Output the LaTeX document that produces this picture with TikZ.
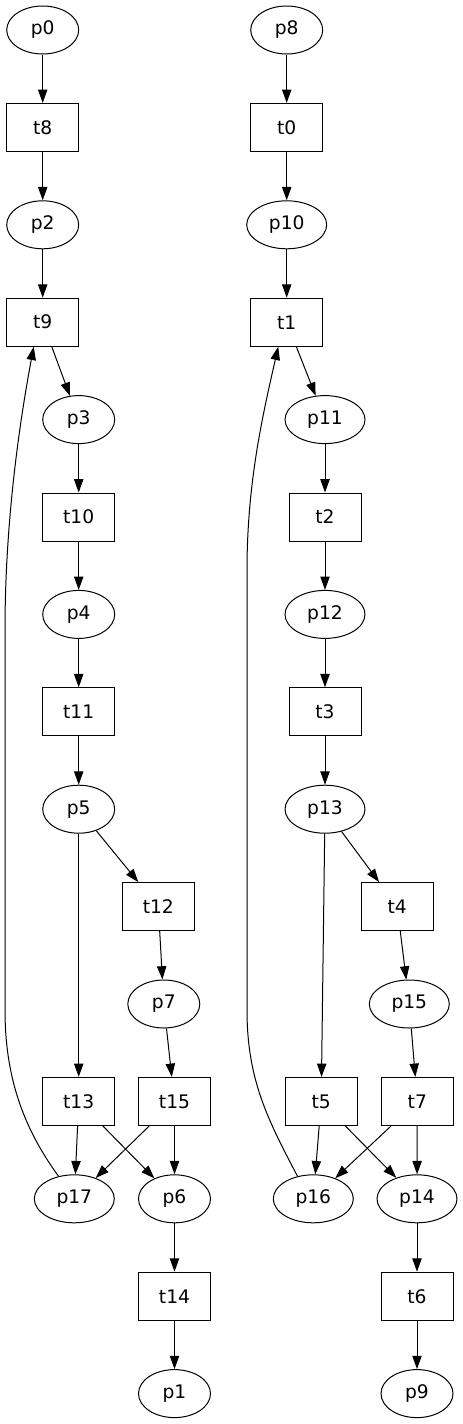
\documentclass[tikz,border=0pt]{standalone}
\usepackage{fontspec}
\setmainfont{DejaVu Sans}
\usetikzlibrary{arrows.meta,calc,shapes.geometric}
\tikzset{
  place/.style={ellipse,draw,line width=0.75pt,minimum width=54pt,minimum height=36pt,inner sep=0pt,font=\fontsize{14pt}{16pt}\selectfont},
  wplace/.style={place,minimum width=60pt},
  trans/.style={rectangle,draw,line width=0.75pt,minimum width=54pt,minimum height=36pt,inner sep=0pt,font=\fontsize{14pt}{16pt}\selectfont},
  arc/.style={draw,line width=0.75pt,-{Triangle[length=10pt,width=7pt]}}
}
\begin{document}
\begin{tikzpicture}[x=0.75pt,y=-0.75pt]
\useasboundingbox (0,0) rectangle (463,1424);
% left column
\node[place] (p0) at (42.7,30) {p0};
\node[trans] (t8) at (42.7,127.4) {t8};
\node[place] (p2) at (42.7,224.8) {p2};
\node[trans] (t9) at (42.7,322.2) {t9};
\node[place] (p3) at (78.7,419.6) {p3};
\node[trans] (t10) at (78.7,517) {t10};
\node[place] (p4) at (78.7,614.4) {p4};
\node[trans] (t11) at (78.7,711.8) {t11};
\node[place] (p5) at (78.7,809.2) {p5};
\node[trans] (t12) at (158.3,906.6) {t12};
\node[place] (p7) at (163.8,1004) {p7};
\node[trans] (t13) at (78.7,1101.4) {t13};
\node[trans] (t15) at (174.5,1101.4) {t15};
\node[wplace] (p17) at (74.3,1198.8) {p17};
\node[place] (p6) at (174.5,1198.8) {p6};
\node[trans] (t14) at (174.5,1296.2) {t14};
\node[place] (p1) at (174.5,1393.6) {p1};
% right column
\node[place] (p8) at (286.7,30) {p8};
\node[trans] (t0) at (286.7,127.4) {t0};
\node[wplace] (p10) at (286.7,224.8) {p10};
\node[trans] (t1) at (286.7,322.2) {t1};
\node[wplace] (p11) at (325,419.6) {p11};
\node[trans] (t2) at (325,517) {t2};
\node[wplace] (p12) at (325,614.4) {p12};
\node[trans] (t3) at (325,711.8) {t3};
\node[wplace] (p13) at (325,809.2) {p13};
\node[trans] (t4) at (397.2,906.6) {t4};
\node[wplace] (p15) at (409.3,1004) {p15};
\node[trans] (t5) at (321.2,1101.4) {t5};
\node[trans] (t7) at (417.3,1101.4) {t7};
\node[wplace] (p16) at (313.3,1198.8) {p16};
\node[wplace] (p14) at (417,1198.8) {p14};
\node[trans] (t6) at (417,1296.2) {t6};
\node[place] (p9) at (417,1393.6) {p9};
% left edges
\draw[arc] (p0) -- (t8);
\draw[arc] (t8) -- (p2);
\draw[arc] (p2) -- (t9);
\draw[arc] (t9) -- (p3);
\draw[arc] (p3) -- (t10);
\draw[arc] (t10) -- (p4);
\draw[arc] (p4) -- (t11);
\draw[arc] (t11) -- (p5);
\draw[arc] (p5) -- (t12);
\draw[arc] (p5) -- (t13);
\draw[arc] (t12) -- (p7);
\draw[arc] (p7) -- (t15);
\draw[arc] (t13) -- (p17);
\draw[arc] (t13) -- (p6);
\draw[arc] (t15) -- (p17);
\draw[arc] (t15) -- (p6);
\draw[arc] (p6) -- (t14);
\draw[arc] (t14) -- (p1);
\draw[arc] (p17.125) .. controls (25,1130) and (5,1080) .. (5,1010) -- (5,630) .. controls (5,520) and (20,420) .. ($(t9.south)+(-9,0)$);
% right edges
\draw[arc] (p8) -- (t0);
\draw[arc] (t0) -- (p10);
\draw[arc] (p10) -- (t1);
\draw[arc] (t1) -- (p11);
\draw[arc] (p11) -- (t2);
\draw[arc] (t2) -- (p12);
\draw[arc] (p12) -- (t3);
\draw[arc] (t3) -- (p13);
\draw[arc] (p13) -- (t4);
\draw[arc] (p13) -- (t5);
\draw[arc] (t4) -- (p15);
\draw[arc] (p15) -- (t7);
\draw[arc] (t5) -- (p16);
\draw[arc] (t5) -- (p14);
\draw[arc] (t7) -- (p16);
\draw[arc] (t7) -- (p14);
\draw[arc] (p14) -- (t6);
\draw[arc] (t6) -- (p9);
\draw[arc] (p16.125) .. controls (268,1120) and (247,1080) .. (247,1010) -- (247,570) .. controls (247,480) and (264,410) .. ($(t1.south)+(-8.5,0)$);
\end{tikzpicture}
\end{document}
